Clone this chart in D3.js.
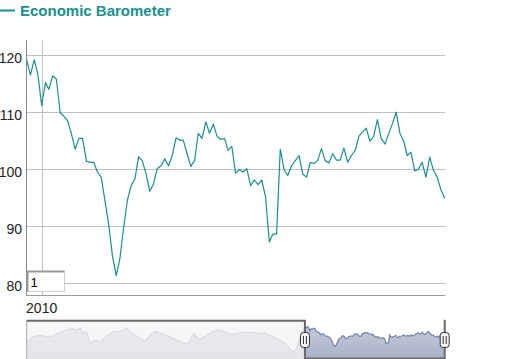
<!DOCTYPE html>
<html><head><meta charset="utf-8">
<script src="https://cdn.jsdelivr.net/npm/d3@7"></script>
<style>
body{margin:0;background:#fff;}
svg{display:block;font-family:"Liberation Sans",Arial,sans-serif;}
</style>
</head><body>
<svg id="c" width="511" height="359"></svg>
<script>
// ---------- data ----------
const titleText = "Economic Barometer";
const mainStart = "2009-09";
const mainValues = [
 119.2,116.5,119.2,116.7,111.2,115.2,114.0,116.4,115.8,109.9,
 109.3,108.5,106.2,103.5,105.4,105.4,101.4,101.2,101.2,99.5,
 98.6,94.5,90.4,84.8,81.3,84.3,89.8,94.5,97.1,98.3,
 102.2,101.5,99.2,96.1,97.4,100.1,100.6,101.8,100.6,102.4,
 105.5,105.1,105.1,102.7,100.5,101.5,106.3,105.4,108.3,106.3,
 107.9,105.8,105.2,105.4,103.3,104.0,99.3,99.9,99.5,100.1,
 97.1,98.1,97.3,98.1,95.1,87.2,88.6,88.6,103.5,99.9,
 98.9,100.6,101.5,102.4,99.1,98.6,101.2,101.0,101.5,103.6,
 101.5,101.1,102.7,101.6,101.6,103.7,101.2,102.4,103.3,105.8,
 106.5,107.2,104.9,105.8,108.7,105.4,104.4,106.2,108.0,110.0,
 106.3,104.9,102.4,103.0,99.7,100.0,101.2,98.6,102.1,99.8,
 98.6,96.4,94.9
];
const historyDates = [
 "1991-02","1991-07","1992-01","1992-06","1992-11","1993-05","1993-10","1994-02","1994-06","1994-09",
 "1994-11","1995-02","1995-05","1995-09","1996-01","1996-06","1996-11","1997-05","1997-10","1998-04",
 "1998-09","1999-01","1999-05","1999-09","2000-02","2000-08","2001-01","2001-06","2001-10","2002-01",
 "2002-04","2002-08","2003-01","2003-06","2003-12","2004-05","2004-10","2005-04","2005-09","2006-02",
 "2006-08","2007-01","2007-06","2007-12","2008-05","2008-09","2008-12","2009-02","2009-04","2009-07"
];
const historyValues = [
 87.6,100.2,102.7,100.2,101.5,108.4,112.8,115.9,112.8,115.9,
 106.5,109.6,87.6,93.9,90.7,100.2,109.6,109.6,115.9,103.3,
 97.0,90.7,103.3,109.6,106.5,100.2,95.2,89.5,85.7,93.9,
 106.5,95.2,100.2,108.4,112.8,109.0,104.6,106.5,109.0,108.4,
 106.5,106.5,101.5,95.2,87.6,78.2,71.9,75.0,90.7,109.6
];
const yTicks = [80, 90, 100, 110, 120];
const xTickDates = ["2010-01"];
const xTickLabels = ["2010"];
const inputText = "1";

// ---------- drawing ----------
const svg = d3.select("#c");
const parseM = d3.timeParse("%Y-%m");
const start = parseM(mainStart);
const mainDates = mainValues.map((v, i) => d3.timeMonth.offset(start, i));
const main = mainValues.map((v, i) => ({d: mainDates[i], v}));
const hist = historyValues.map((v, i) => ({d: parseM(historyDates[i]), v}));
const all = hist.concat(main);

const lineColor = "#1a8f8b";
const left = 26.7, right = 444.7;

const x = d3.scaleTime().domain([mainDates[0], mainDates[mainDates.length - 1]]).range([left, right]);
const y = d3.scaleLinear().domain([80, 120]).range([283, 55.3]);

// title
svg.append("line").attr("x1", 0).attr("x2", 15).attr("y1", 10.5).attr("y2", 10.5)
  .attr("stroke", lineColor).attr("stroke-width", 2);
svg.append("text").attr("x", 20).attr("y", 15.5).text(titleText)
  .attr("font-size", 15).attr("font-weight", "bold").attr("fill", lineColor);

// horizontal grid
const g = svg.append("g");
yTicks.forEach(t => {
  const yy = Math.round(y(t)) + 0.5;
  g.append("line").attr("x1", left).attr("x2", right + 0.5).attr("y1", yy).attr("y2", yy)
    .attr("stroke", "#c0c0c0").attr("stroke-width", 1);
  g.append("text").attr("x", 22).attr("y", y(t) + 7.5).attr("text-anchor", "end")
    .attr("font-size", 14).attr("fill", "#222").text(t);
});
// vertical grid + x labels
xTickDates.forEach((s, i) => {
  const xx = Math.round(x(parseM(s))) + 0.5;
  g.append("line").attr("x1", xx).attr("x2", xx).attr("y1", 40).attr("y2", 295)
    .attr("stroke", "#c0c0c0").attr("stroke-width", 1);
  g.append("text").attr("x", x(parseM(s))).attr("y", 313).attr("text-anchor", "middle")
    .attr("font-size", 14).attr("fill", "#222").text(xTickLabels[i]);
});
// axis lines
g.append("line").attr("x1", 26.5).attr("x2", 26.5).attr("y1", 40).attr("y2", 295.5)
  .attr("stroke", "#888").attr("stroke-width", 1);
g.append("line").attr("x1", 26.5).attr("x2", right + 0.5).attr("y1", 295.5).attr("y2", 295.5)
  .attr("stroke", "#999").attr("stroke-width", 1);

// main line
svg.append("path").datum(main)
  .attr("d", d3.line().x(d => x(d.d)).y(d => y(d.v)))
  .attr("fill", "none").attr("stroke", lineColor).attr("stroke-width", 1.2)
  .attr("stroke-linejoin", "round");

// input box
svg.append("rect").attr("x", 27.5).attr("y", 271.5).attr("width", 37).attr("height", 20)
  .attr("fill", "#fff").attr("stroke", "#d0d0d0");
svg.append("path").attr("d", "M27.5,291.5 V271.5 H64.5").attr("fill", "none")
  .attr("stroke", "#999").attr("stroke-width", 2);
svg.append("text").attr("x", 30.5).attr("y", 287).attr("font-size", 13).attr("fill", "#000").text(inputText);

// navigator
const nTop = 320.7, nBot = 358.5;
const nx = d3.scaleTime().domain([hist[0].d, mainDates[mainDates.length - 1]]).range([left, right]);
const ny = d3.scaleLinear().domain([70, 122]).range([352.7, 325.1]);
const defs = svg.append("defs");
const grad = defs.append("linearGradient").attr("id", "ng").attr("gradientUnits", "userSpaceOnUse")
  .attr("x1", 0).attr("x2", 0).attr("y1", 322).attr("y2", 359);
grad.append("stop").attr("offset", 0).attr("stop-color", "#c9cfdc");
grad.append("stop").attr("offset", 1).attr("stop-color", "#a7b0c6");
svg.append("path").datum(all)
  .attr("d", d3.area().x(d => nx(d.d)).y0(nBot + 1).y1(d => ny(d.v)))
  .attr("fill", "url(#ng)");
svg.append("path").datum(all)
  .attr("d", d3.line().x(d => nx(d.d)).y(d => ny(d.v)))
  .attr("fill", "none").attr("stroke", "#7584a6").attr("stroke-width", 1.2);
const selX = nx(mainDates[0]);
svg.append("rect").attr("x", left).attr("y", nTop).attr("width", selX - left).attr("height", 360 - nTop)
  .attr("fill", "rgba(244,244,244,0.78)");
svg.append("line").attr("x1", left).attr("x2", left).attr("y1", nTop).attr("y2", 359)
  .attr("stroke", "#aaa").attr("stroke-width", 1);
svg.append("path")
  .attr("d", `M${left},${nTop} H${selX} V${nBot} H${right} V${nTop - 1}`)
  .attr("fill", "none").attr("stroke", "#6a6a6a").attr("stroke-width", 2);
[selX, right].forEach(hx => {
  const hg = svg.append("g");
  hg.append("rect").attr("x", hx - 4.5).attr("y", 332.5).attr("width", 9).attr("height", 15).attr("rx", 3)
    .attr("fill", "#f4f4f4").attr("stroke", "#333").attr("stroke-width", 1);
  [-1.5, 1.5].forEach(o => hg.append("line").attr("x1", hx + o).attr("x2", hx + o)
    .attr("y1", 336).attr("y2", 344).attr("stroke", "#333").attr("stroke-width", 1));
});
</script>
</body></html>
